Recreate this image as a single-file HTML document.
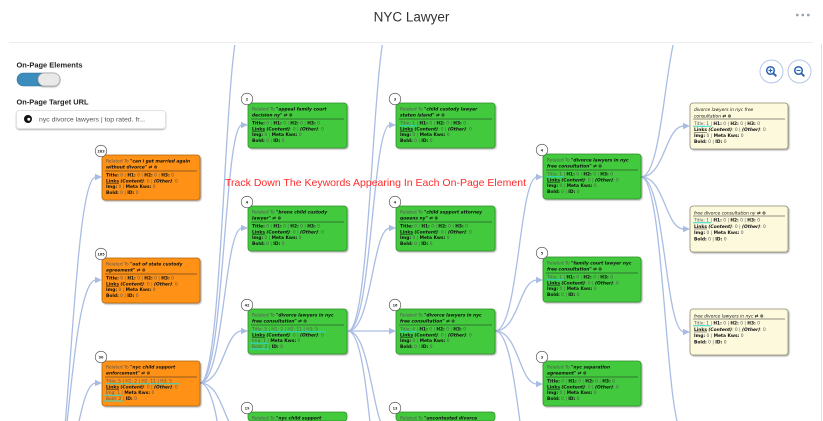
<!DOCTYPE html>
<html><head><meta charset="utf-8">
<style>
html,body{margin:0;padding:0;background:#fff;width:823px;height:421px;overflow:hidden}
svg{display:block}
.nd text{font-family:"DejaVu Sans",sans-serif;font-size:8.8px;fill:#555}
.nd .b{font-weight:bold;fill:#111}
.nd .bi{font-weight:bold;font-style:italic;fill:#111}
.nd .u{text-decoration:underline}
.nd .it{font-style:italic;fill:#111}
.nd .n{font-size:7px;font-weight:bold;fill:#333;text-anchor:middle}
.sep{stroke:#222;stroke-width:1.2}
.bd{fill:#fff;stroke:#555;stroke-width:1.4}
.hl{stroke:#2fd6d0;stroke-width:2}
.og{fill:#ff9212;stroke:#b0650c;stroke-width:1.6}
.gr{fill:#42c93c;stroke:#2f8f2a;stroke-width:1.6}
.yl{fill:#fdf9dc;stroke:#8f8b73;stroke-width:1.6}
.ed path{fill:none;stroke:#a9bde3;stroke-width:1.3}
.ed polygon{fill:#a9bde3}
.lp{font-family:"Liberation Sans",sans-serif}
</style></head>
<body>
<svg width="823" height="421" viewBox="0 0 823 421" xmlns="http://www.w3.org/2000/svg">
<defs>
<filter id="sh" x="-10%" y="-10%" width="130%" height="140%"><feDropShadow dx="2" dy="2" stdDeviation="1.5" flood-color="#000" flood-opacity=".35"/></filter>
<filter id="sh2" x="-20%" y="-30%" width="140%" height="170%"><feDropShadow dx="0" dy="1" stdDeviation="0.8" flood-color="#000" flood-opacity=".3"/></filter>
<clipPath id="gc"><rect x="10" y="45" width="810" height="376"/></clipPath>
<clipPath id="nc"><rect x="0" y="45" width="823" height="376"/></clipPath>
</defs>

<!-- header -->
<text class="lp" x="411.5" y="21.5" text-anchor="middle" font-size="13.5" fill="#333">NYC Lawyer</text>
<circle cx="797.3" cy="15" r="1.4" fill="#9aa5b0"/><circle cx="802.8" cy="15" r="1.4" fill="#9aa5b0"/><circle cx="808.3" cy="15" r="1.4" fill="#9aa5b0"/>
<line x1="9" y1="42.5" x2="813" y2="42.5" stroke="#ececec"/>
<line x1="821.5" y1="44" x2="821.5" y2="421" stroke="#e2e2e2"/>

<!-- left panel -->
<text class="lp" x="16.5" y="67.5" font-weight="bold" font-size="7.6" fill="#222" textLength="66" lengthAdjust="spacingAndGlyphs">On-Page Elements</text>
<rect x="17" y="73" width="43" height="13" rx="6.5" fill="#3a8dbd" stroke="#2f6f96" stroke-width=".6"/>
<rect x="38" y="73" width="22" height="13" rx="6.5" fill="#e9e9e9" stroke="#a8a8a8" stroke-width=".8" filter="url(#sh2)"/>
<text class="lp" x="16.5" y="104.3" font-weight="bold" font-size="7.6" fill="#222" textLength="72" lengthAdjust="spacingAndGlyphs">On-Page Target URL</text>
<rect x="16.5" y="110.5" width="149" height="18" rx="3" fill="#fff" stroke="#e3e3e3" filter="url(#sh2)"/>
<circle cx="28" cy="119" r="4" fill="#111"/><circle cx="28.8" cy="119.3" r="1.5" fill="#fff"/>
<text class="lp" x="39" y="121.5" font-size="6.8" fill="#555" textLength="106" lengthAdjust="spacingAndGlyphs">nyc divorce lawyers | top rated. fr...</text>

<!-- zoom buttons -->
<circle cx="771.5" cy="71.5" r="11.5" fill="#fff" stroke="#b5c6e6"/>
<circle cx="770.5" cy="70.5" r="3.8" fill="none" stroke="#2d63b0" stroke-width="1.5"/>
<line x1="773.3" y1="73.3" x2="776.3" y2="76.3" stroke="#2d63b0" stroke-width="2"/>
<line x1="768.5" y1="70.5" x2="772.5" y2="70.5" stroke="#2d63b0" stroke-width="1.1"/>
<line x1="770.5" y1="68.5" x2="770.5" y2="72.5" stroke="#2d63b0" stroke-width="1.1"/>
<circle cx="799.5" cy="71.5" r="11.5" fill="#fff" stroke="#b5c6e6"/>
<circle cx="798.5" cy="70.5" r="3.8" fill="none" stroke="#2d63b0" stroke-width="1.5"/>
<line x1="801.3" y1="73.3" x2="804.3" y2="76.3" stroke="#2d63b0" stroke-width="2"/>
<line x1="796.5" y1="70.5" x2="800.5" y2="70.5" stroke="#2d63b0" stroke-width="1.1"/>

<!-- edges -->
<g class="ed" clip-path="url(#gc)">
<path d="M40,560 C70,560 70,177 96,177"/>
<path d="M30,600 C66,600 66,280 96,280"/>
<path d="M45,500 C76,500 76,383 96,383"/>
<polygon points="102,177 95,173.8 95,180.2"/>
<polygon points="102,280 95,276.8 95,283.2"/>
<polygon points="102,383 95,379.8 95,386.2"/>

<path d="M200,383 C224,383 224,125 242,125"/>
<path d="M200,383 C224,383 224,228 242,228"/>
<path d="M200,383 C224,383 224,331 242,331"/>
<path d="M200,383 C224,383 224,434 242,434"/>
<path d="M200,383 C224,383 224,22 242,22"/>
<path d="M200,383 C224,383 224,537 242,537"/>
<polygon points="248,125 241,121.8 241,128.2"/>
<polygon points="248,228 241,224.8 241,231.2"/>
<polygon points="248,331 241,327.8 241,334.2"/>

<path d="M348,331 C372,331 372,125 390,125"/>
<path d="M348,331 C372,331 372,228 390,228"/>
<path d="M348,331 L390,331"/>
<path d="M348,331 C372,331 372,434 390,434"/>
<path d="M348,331 C372,331 372,22 390,22"/>
<path d="M348,331 C372,331 372,537 390,537"/>
<polygon points="396,125 389,121.8 389,128.2"/>
<polygon points="396,228 389,224.8 389,231.2"/>
<polygon points="396,331 389,327.8 389,334.2"/>

<path d="M495,331 C519,331 519,177 537,177"/>
<path d="M495,331 C519,331 519,280 537,280"/>
<path d="M495,331 C519,331 519,384 537,384"/>
<path d="M495,331 C519,331 519,487 537,487"/>
<polygon points="543,177 536,173.8 536,180.2"/>
<polygon points="543,280 536,276.8 536,283.2"/>
<polygon points="543,384 536,380.8 536,387.2"/>

<path d="M641,177 C665,177 665,126 684,126"/>
<path d="M641,177 C665,177 665,229 684,229"/>
<path d="M641,177 C665,177 665,332 684,332"/>
<path d="M641,177 C665,177 665,23 684,23"/>
<path d="M641,177 C665,177 665,435 684,435"/>
<polygon points="690,126 683,122.8 683,129.2"/>
<polygon points="690,229 683,225.8 683,232.2"/>
<polygon points="690,332 683,328.8 683,335.2"/>
</g>

<g class="nd" clip-path="url(#nc)">
<!-- COLUMN 1 -->
<g transform="translate(102,155) scale(.5)">
<rect width="196" height="90" rx="6" class="og" filter="url(#sh)"/>
<line x1="6" y1="32" x2="190" y2="32" class="sep"/>
<text x="8" y="15">Related To <tspan class="bi">"can i get married again</tspan></text>
<text x="8" y="27"><tspan class="bi">without divorce"</tspan> <tspan class="b">⇄ ⊛</tspan></text>
<text x="8" y="43"><tspan class="b">Title:</tspan> 0 | <tspan class="b">H1:</tspan> 0 | <tspan class="b">H2:</tspan> 0 | <tspan class="b">H3:</tspan> 0</text>
<text x="8" y="54.5"><tspan class="b u">Links</tspan> <tspan class="bi">(Content)</tspan>: 0 | <tspan class="bi">(Other)</tspan>: 0</text>
<text x="8" y="66"><tspan class="b">Img:</tspan> 0 | <tspan class="b">Meta Kws:</tspan> 0</text>
<text x="8" y="77.5"><tspan class="b">Bold:</tspan> 0 | <tspan class="b">ID:</tspan> 0</text>
<circle cx="-2" cy="-8" r="11.5" class="bd"/><text x="-2" y="-5.5" class="n">283</text>
</g>
<g transform="translate(102,258) scale(.5)">
<rect width="196" height="90" rx="6" class="og" filter="url(#sh)"/>
<line x1="6" y1="32" x2="190" y2="32" class="sep"/>
<text x="8" y="15">Related To <tspan class="bi">"out of state custody</tspan></text>
<text x="8" y="27"><tspan class="bi">agreement"</tspan> <tspan class="b">⇄ ⊛</tspan></text>
<text x="8" y="43"><tspan class="b">Title:</tspan> 0 | <tspan class="b">H1:</tspan> 0 | <tspan class="b">H2:</tspan> 0 | <tspan class="b">H3:</tspan> 0</text>
<text x="8" y="54.5"><tspan class="b u">Links</tspan> <tspan class="bi">(Content)</tspan>: 0 | <tspan class="bi">(Other)</tspan>: 0</text>
<text x="8" y="66"><tspan class="b">Img:</tspan> 0 | <tspan class="b">Meta Kws:</tspan> 0</text>
<text x="8" y="77.5"><tspan class="b">Bold:</tspan> 0 | <tspan class="b">ID:</tspan> 0</text>
<circle cx="-2" cy="-8" r="11.5" class="bd"/><text x="-2" y="-5.5" class="n">165</text>
</g>
<g transform="translate(102,361) scale(.5)">
<rect width="196" height="90" rx="6" class="og" filter="url(#sh)"/>
<line x1="6" y1="32" x2="190" y2="32" class="sep"/>
<text x="8" y="15">Related To <tspan class="bi">"nyc child support</tspan></text>
<text x="8" y="27"><tspan class="bi">enforcement"</tspan> <tspan class="b">⇄ ⊛</tspan></text>
<text x="8" y="43">Title: 5 | H1: 2 | H2: 11 | H3: 5</text>
<line x1="8" y1="45.5" x2="156" y2="45.5" class="hl"/>
<text x="8" y="54.5"><tspan class="b u">Links</tspan> <tspan class="bi">(Content)</tspan>: 0 | <tspan class="bi">(Other)</tspan>: 0</text>
<text x="8" y="66">Img: 1 | <tspan class="b">Meta Kws:</tspan> 0</text>
<line x1="4" y1="68.5" x2="41" y2="68.5" class="hl"/>
<text x="8" y="77.5">Bold: 2 | <tspan class="b">ID:</tspan> 0</text>
<line x1="4" y1="80" x2="42" y2="80" class="hl"/>
<circle cx="-2" cy="-8" r="11.5" class="bd"/><text x="-2" y="-5.5" class="n">90</text>
</g>

<!-- COLUMN 2 -->
<g transform="translate(248,103) scale(.5)">
<rect width="198" height="90" rx="6" class="gr" filter="url(#sh)"/>
<line x1="6" y1="32" x2="192" y2="32" class="sep"/>
<text x="8" y="15">Related To <tspan class="bi">"appeal family court</tspan></text>
<text x="8" y="27"><tspan class="bi">decision ny"</tspan> <tspan class="b">⇄ ⊛</tspan></text>
<text x="8" y="43"><tspan class="b">Title:</tspan> 0 | <tspan class="b">H1:</tspan> 0 | <tspan class="b">H2:</tspan> 0 | <tspan class="b">H3:</tspan> 0</text>
<text x="8" y="54.5"><tspan class="b u">Links</tspan> <tspan class="bi">(Content)</tspan>: 0 | <tspan class="bi">(Other)</tspan>: 0</text>
<text x="8" y="66"><tspan class="b">Img:</tspan> 0 | <tspan class="b">Meta Kws:</tspan> 0</text>
<text x="8" y="77.5"><tspan class="b">Bold:</tspan> 0 | <tspan class="b">ID:</tspan> 0</text>
<circle cx="-2" cy="-8" r="11.5" class="bd"/><text x="-2" y="-5.5" class="n">2</text>
</g>
<g transform="translate(248,206) scale(.5)">
<rect width="198" height="90" rx="6" class="gr" filter="url(#sh)"/>
<line x1="6" y1="32" x2="192" y2="32" class="sep"/>
<text x="8" y="15">Related To <tspan class="bi">"bronx child custody</tspan></text>
<text x="8" y="27"><tspan class="bi">lawyer"</tspan> <tspan class="b">⇄ ⊛</tspan></text>
<text x="8" y="43"><tspan class="b">Title:</tspan> 0 | <tspan class="b">H1:</tspan> 0 | <tspan class="b">H2:</tspan> 0 | <tspan class="b">H3:</tspan> 0</text>
<text x="8" y="54.5"><tspan class="b u">Links</tspan> <tspan class="bi">(Content)</tspan>: 0 | <tspan class="bi">(Other)</tspan>: 0</text>
<text x="8" y="66"><tspan class="b">Img:</tspan> 0 | <tspan class="b">Meta Kws:</tspan> 0</text>
<text x="8" y="77.5"><tspan class="b">Bold:</tspan> 0 | <tspan class="b">ID:</tspan> 0</text>
<circle cx="-2" cy="-8" r="11.5" class="bd"/><text x="-2" y="-5.5" class="n">4</text>
</g>
<g transform="translate(248,309) scale(.5)">
<rect width="198" height="90" rx="6" class="gr" filter="url(#sh)"/>
<line x1="6" y1="32" x2="192" y2="32" class="sep"/>
<text x="8" y="15">Related To <tspan class="bi">"divorce lawyers in nyc</tspan></text>
<text x="8" y="27"><tspan class="bi">free consultation"</tspan> <tspan class="b">⇄ ⊛</tspan></text>
<text x="8" y="43">Title: 5 | H1: 2 | H2: 11 | H3: 5</text>
<line x1="8" y1="45.5" x2="156" y2="45.5" class="hl"/>
<text x="8" y="54.5"><tspan class="b u">Links</tspan> <tspan class="bi">(Content)</tspan>: 0 | <tspan class="bi">(Other)</tspan>: 0</text>
<text x="8" y="66">Img: 1 | <tspan class="b">Meta Kws:</tspan> 0</text>
<line x1="4" y1="68.5" x2="41" y2="68.5" class="hl"/>
<text x="8" y="77.5">Bold: 2 | <tspan class="b">ID:</tspan> 0</text>
<line x1="4" y1="80" x2="42" y2="80" class="hl"/>
<circle cx="-2" cy="-8" r="11.5" class="bd"/><text x="-2" y="-5.5" class="n">42</text>
</g>
<g transform="translate(248,412) scale(.5)">
<rect width="198" height="18" rx="6" class="gr"/>
<text x="8" y="15">Related To <tspan class="bi">"nyc child support</tspan></text>
<circle cx="-2" cy="-8" r="11.5" class="bd"/><text x="-2" y="-5.5" class="n">19</text>
</g>

<!-- COLUMN 3 -->
<g transform="translate(396,103) scale(.5)">
<rect width="198" height="90" rx="6" class="gr" filter="url(#sh)"/>
<line x1="6" y1="32" x2="192" y2="32" class="sep"/>
<text x="8" y="15">Related To <tspan class="bi">"child custody lawyer</tspan></text>
<text x="8" y="27"><tspan class="bi">staten island"</tspan> <tspan class="b">⇄ ⊛</tspan></text>
<text x="8" y="43">Title: 1 | <tspan class="b">H1:</tspan> 0 | <tspan class="b">H2:</tspan> 0 | <tspan class="b">H3:</tspan> 0</text>
<line x1="6" y1="45.5" x2="42" y2="45.5" class="hl"/>
<text x="8" y="54.5"><tspan class="b u">Links</tspan> <tspan class="bi">(Content)</tspan>: 0 | <tspan class="bi">(Other)</tspan>: 0</text>
<text x="8" y="66"><tspan class="b">Img:</tspan> 0 | <tspan class="b">Meta Kws:</tspan> 0</text>
<text x="8" y="77.5"><tspan class="b">Bold:</tspan> 0 | <tspan class="b">ID:</tspan> 0</text>
<circle cx="-2" cy="-8" r="11.5" class="bd"/><text x="-2" y="-5.5" class="n">3</text>
</g>
<g transform="translate(396,206) scale(.5)">
<rect width="198" height="90" rx="6" class="gr" filter="url(#sh)"/>
<line x1="6" y1="32" x2="192" y2="32" class="sep"/>
<text x="8" y="15">Related To <tspan class="bi">"child support attorney</tspan></text>
<text x="8" y="27"><tspan class="bi">queens ny"</tspan> <tspan class="b">⇄ ⊛</tspan></text>
<text x="8" y="43"><tspan class="b">Title:</tspan> 0 | <tspan class="b">H1:</tspan> 0 | <tspan class="b">H2:</tspan> 0 | <tspan class="b">H3:</tspan> 0</text>
<text x="8" y="54.5"><tspan class="b u">Links</tspan> <tspan class="bi">(Content)</tspan>: 0 | <tspan class="bi">(Other)</tspan>: 0</text>
<text x="8" y="66"><tspan class="b">Img:</tspan> 0 | <tspan class="b">Meta Kws:</tspan> 0</text>
<text x="8" y="77.5"><tspan class="b">Bold:</tspan> 0 | <tspan class="b">ID:</tspan> 0</text>
<circle cx="-2" cy="-8" r="11.5" class="bd"/><text x="-2" y="-5.5" class="n">4</text>
</g>
<g transform="translate(396,309) scale(.5)">
<rect width="198" height="90" rx="6" class="gr" filter="url(#sh)"/>
<line x1="6" y1="32" x2="192" y2="32" class="sep"/>
<text x="8" y="15">Related To <tspan class="bi">"divorce lawyers in nyc</tspan></text>
<text x="8" y="27"><tspan class="bi">free consultation"</tspan> <tspan class="b">⇄ ⊛</tspan></text>
<text x="8" y="43">Title: 4 | <tspan class="b">H1:</tspan> 0 | <tspan class="b">H2:</tspan> 0 | <tspan class="b">H3:</tspan> 0</text>
<line x1="6" y1="45.5" x2="42" y2="45.5" class="hl"/>
<text x="8" y="54.5"><tspan class="b u">Links</tspan> <tspan class="bi">(Content)</tspan>: 0 | <tspan class="bi">(Other)</tspan>: 0</text>
<text x="8" y="66"><tspan class="b">Img:</tspan> 0 | <tspan class="b">Meta Kws:</tspan> 0</text>
<text x="8" y="77.5"><tspan class="b">Bold:</tspan> 0 | <tspan class="b">ID:</tspan> 0</text>
<circle cx="-2" cy="-8" r="11.5" class="bd"/><text x="-2" y="-5.5" class="n">16</text>
</g>
<g transform="translate(396,412) scale(.5)">
<rect width="198" height="18" rx="6" class="gr"/>
<text x="8" y="15">Related To <tspan class="bi">"uncontested divorce</tspan></text>
<circle cx="-2" cy="-8" r="11.5" class="bd"/><text x="-2" y="-5.5" class="n">13</text>
</g>

<!-- COLUMN 4 -->
<g transform="translate(543,154) scale(.5)">
<rect width="196" height="90" rx="6" class="gr" filter="url(#sh)"/>
<line x1="6" y1="32" x2="190" y2="32" class="sep"/>
<text x="8" y="15">Related To <tspan class="bi">"divorce lawyers in nyc</tspan></text>
<text x="8" y="27"><tspan class="bi">free consultation"</tspan> <tspan class="b">⇄ ⊛</tspan></text>
<text x="8" y="43">Title: 1 | <tspan class="b">H1:</tspan> 0 | <tspan class="b">H2:</tspan> 0 | <tspan class="b">H3:</tspan> 0</text>
<line x1="6" y1="45.5" x2="42" y2="45.5" class="hl"/>
<text x="8" y="54.5"><tspan class="b u">Links</tspan> <tspan class="bi">(Content)</tspan>: 0 | <tspan class="bi">(Other)</tspan>: 0</text>
<text x="8" y="66"><tspan class="b">Img:</tspan> 0 | <tspan class="b">Meta Kws:</tspan> 0</text>
<text x="8" y="77.5"><tspan class="b">Bold:</tspan> 0 | <tspan class="b">ID:</tspan> 0</text>
<circle cx="-2" cy="-8" r="11.5" class="bd"/><text x="-2" y="-5.5" class="n">4</text>
</g>
<g transform="translate(543,257) scale(.5)">
<rect width="196" height="90" rx="6" class="gr" filter="url(#sh)"/>
<line x1="6" y1="32" x2="190" y2="32" class="sep"/>
<text x="8" y="15">Related To <tspan class="bi">"family court lawyer nyc</tspan></text>
<text x="8" y="27"><tspan class="bi">free consultation"</tspan> <tspan class="b">⇄ ⊛</tspan></text>
<text x="8" y="43">Title: 1 | <tspan class="b">H1:</tspan> 0 | <tspan class="b">H2:</tspan> 0 | <tspan class="b">H3:</tspan> 0</text>
<line x1="6" y1="45.5" x2="42" y2="45.5" class="hl"/>
<text x="8" y="54.5"><tspan class="b u">Links</tspan> <tspan class="bi">(Content)</tspan>: 0 | <tspan class="bi">(Other)</tspan>: 0</text>
<text x="8" y="66"><tspan class="b">Img:</tspan> 0 | <tspan class="b">Meta Kws:</tspan> 0</text>
<text x="8" y="77.5"><tspan class="b">Bold:</tspan> 0 | <tspan class="b">ID:</tspan> 0</text>
<circle cx="-2" cy="-8" r="11.5" class="bd"/><text x="-2" y="-5.5" class="n">5</text>
</g>
<g transform="translate(543,361) scale(.5)">
<rect width="196" height="90" rx="6" class="gr" filter="url(#sh)"/>
<line x1="6" y1="32" x2="190" y2="32" class="sep"/>
<text x="8" y="15">Related To <tspan class="bi">"nyc separation</tspan></text>
<text x="8" y="27"><tspan class="bi">agreement"</tspan> <tspan class="b">⇄ ⊛</tspan></text>
<text x="8" y="43"><tspan class="b">Title:</tspan> 0 | <tspan class="b">H1:</tspan> 0 | <tspan class="b">H2:</tspan> 0 | <tspan class="b">H3:</tspan> 0</text>
<text x="8" y="54.5"><tspan class="b u">Links</tspan> <tspan class="bi">(Content)</tspan>: 0 | <tspan class="bi">(Other)</tspan>: 0</text>
<text x="8" y="66"><tspan class="b">Img:</tspan> 0 | <tspan class="b">Meta Kws:</tspan> 0</text>
<text x="8" y="77.5"><tspan class="b">Bold:</tspan> 0 | <tspan class="b">ID:</tspan> 0</text>
<circle cx="-2" cy="-8" r="11.5" class="bd"/><text x="-2" y="-5.5" class="n">3</text>
</g>

<!-- COLUMN 5 -->
<g transform="translate(690,103) scale(.5)">
<rect width="196" height="92" rx="6" class="yl" filter="url(#sh)"/>
<line x1="6" y1="32" x2="190" y2="32" class="sep"/>
<text x="8" y="15.5"><tspan class="it">divorce lawyers in nyc free</tspan></text>
<text x="8" y="29"><tspan class="it">consultation</tspan> <tspan class="b">⇄ ⊛</tspan></text>
<text x="8" y="44">Title: 1 | <tspan class="b">H1:</tspan> 0 | <tspan class="b">H2:</tspan> 0 | <tspan class="b">H3:</tspan> 0</text>
<line x1="6" y1="46.5" x2="42" y2="46.5" class="hl"/>
<text x="8" y="56"><tspan class="b u">Links</tspan> <tspan class="bi">(Content)</tspan>: 0 | <tspan class="bi">(Other)</tspan>: 0</text>
<text x="8" y="68"><tspan class="b">Img:</tspan> 0 | <tspan class="b">Meta Kws:</tspan> 0</text>
<text x="8" y="80"><tspan class="b">Bold:</tspan> 0 | <tspan class="b">ID:</tspan> 0</text>
</g>
<g transform="translate(690,206) scale(.5)">
<rect width="196" height="92" rx="6" class="yl" filter="url(#sh)"/>
<line x1="6" y1="20" x2="190" y2="20" class="sep"/>
<text x="8" y="17"><tspan class="it">free divorce consultation ny</tspan> <tspan class="b">⇄ ⊛</tspan></text>
<text x="8" y="31">Title: 1 | <tspan class="b">H1:</tspan> 0 | <tspan class="b">H2:</tspan> 0 | <tspan class="b">H3:</tspan> 0</text>
<line x1="6" y1="33.5" x2="42" y2="33.5" class="hl"/>
<text x="8" y="43.5"><tspan class="b u">Links</tspan> <tspan class="bi">(Content)</tspan>: 0 | <tspan class="bi">(Other)</tspan>: 0</text>
<text x="8" y="56"><tspan class="b">Img:</tspan> 0 | <tspan class="b">Meta Kws:</tspan> 0</text>
<text x="8" y="68.5"><tspan class="b">Bold:</tspan> 0 | <tspan class="b">ID:</tspan> 0</text>
</g>
<g transform="translate(690,309) scale(.5)">
<rect width="196" height="92" rx="6" class="yl" filter="url(#sh)"/>
<line x1="6" y1="20" x2="190" y2="20" class="sep"/>
<text x="8" y="17"><tspan class="it">free divorce lawyers in nyc</tspan> <tspan class="b">⇄ ⊛</tspan></text>
<text x="8" y="31">Title: 1 | <tspan class="b">H1:</tspan> 0 | <tspan class="b">H2:</tspan> 0 | <tspan class="b">H3:</tspan> 0</text>
<line x1="6" y1="33.5" x2="42" y2="33.5" class="hl"/>
<text x="8" y="43.5"><tspan class="b u">Links</tspan> <tspan class="bi">(Content)</tspan>: 0 | <tspan class="bi">(Other)</tspan>: 0</text>
<text x="8" y="56"><tspan class="b">Img:</tspan> 0 | <tspan class="b">Meta Kws:</tspan> 0</text>
<text x="8" y="68.5"><tspan class="b">Bold:</tspan> 0 | <tspan class="b">ID:</tspan> 0</text>
</g>
</g>

<!-- overlay caption -->
<text class="lp" x="225" y="186" font-size="10.5" fill="#ff2a2a" textLength="301" lengthAdjust="spacingAndGlyphs">Track Down The Keywords Appearing In Each On-Page Element</text>
</svg>
</body></html>
